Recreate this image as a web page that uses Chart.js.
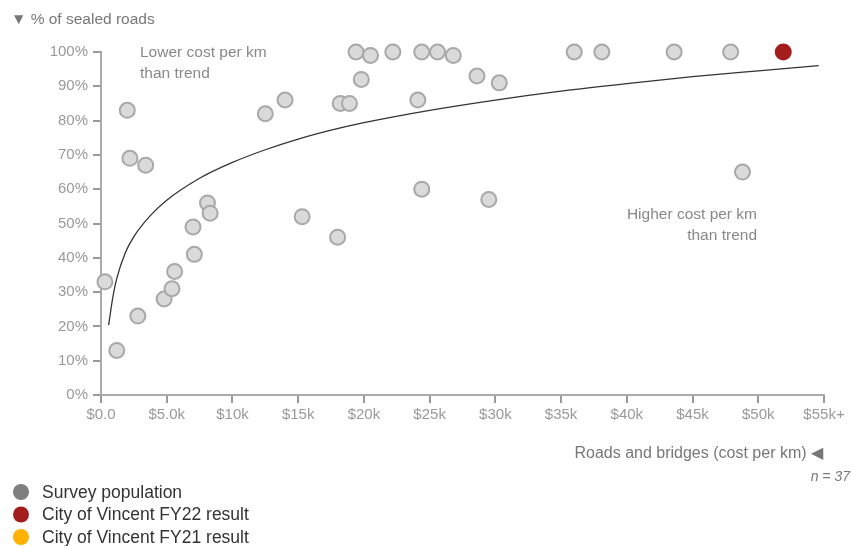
<!DOCTYPE html>
<html>
<head>
<meta charset="utf-8">
<script src="https://cdn.jsdelivr.net/npm/chart.js@4.4.1/dist/chart.umd.min.js"></script>
<style>
  html, body { margin: 0; padding: 0; background: #fff; }
  #wrap { position: relative; width: 851px; height: 546px; }
</style>
</head>
<body>
<div id="wrap"><canvas id="roadsChart" width="851" height="546"></canvas></div>
<script>
// survey population: cost per km ($k) and % sealed roads
var surveyCost = [0.3, 1.2, 2.0, 2.2, 3.4, 2.8, 4.8, 5.4, 5.6, 7.0, 7.1, 8.1, 8.3,
  12.5, 14.0, 15.3, 18.0, 18.2, 18.9, 19.4, 19.8, 20.5, 22.2, 24.1, 24.4, 24.4,
  25.6, 26.8, 28.6, 29.5, 30.3, 36.0, 38.1, 43.6, 47.9, 48.8];
var surveySealed = [33, 13, 83, 69, 67, 23, 28, 31, 36, 49, 41, 56, 53,
  82, 86, 52, 46, 85, 85, 100, 92, 99, 100, 86, 100, 60,
  100, 99, 93, 57, 91, 100, 100, 100, 100, 65];

var vincentFY22Cost = [51.9];
var vincentFY22Sealed = [100];
var vincentFY21Cost = [];
var vincentFY21Sealed = [];

// trend curve
var trendCost = [0.58, 0.9, 1.2, 1.85, 2.5, 3.75, 5.0, 7.5, 10, 12.5, 15, 17.5, 20, 25, 30, 35, 40, 45, 50, 54.6];
var trendSealed = [20.4, 28.5, 34, 41.5, 46.2, 52.3, 56.8, 63.2, 67.8, 71.5, 74.6, 77.2, 79.4, 83, 86, 88.6, 90.8, 92.8, 94.5, 96];

var xTickLabels = ['$0.0', '$5.0k', '$10k', '$15k', '$20k', '$25k', '$30k', '$35k', '$40k', '$45k', '$50k', '$55k+'];
var yTickLabels = ['0%', '10%', '20%', '30%', '40%', '50%', '60%', '70%', '80%', '90%', '100%'];

var legendNames = ['Survey population', 'City of Vincent FY22 result', 'City of Vincent FY21 result'];
var legendColours = ['#7f7f7f', '#a31d1d', '#ffb300'];

var FONT = '"Liberation Sans", Arial, Helvetica, sans-serif';

function toPoints(xs, ys) {
  var pts = [];
  for (var i = 0; i < xs.length; i++) pts.push({ x: xs[i], y: ys[i] });
  return pts;
}

// extra text: title, notes, axis name, n, legend
var textPlugin = {
  id: 'textPlugin',
  afterDraw: function (chart) {
    var ctx = chart.ctx;
    ctx.save();
    ctx.textBaseline = 'middle';

    ctx.font = '15.5px ' + FONT;
    ctx.fillStyle = '#777';
    ctx.textAlign = 'left';
    ctx.fillText('\u25BC % of sealed roads', 11, 20);

    ctx.fillStyle = '#888';
    ctx.fillText('Lower cost per km', 140, 53);
    ctx.fillText('than trend', 140, 74);
    ctx.textAlign = 'right';
    ctx.fillText('Higher cost per km', 757, 215);
    ctx.fillText('than trend', 757, 236);

    ctx.fillStyle = '#777';
    ctx.font = '16px ' + FONT;
    ctx.fillText('Roads and bridges (cost per km) \u25C0', 823, 454);
    ctx.font = 'italic 14px ' + FONT;
    ctx.fillText('n = 37', 850, 477);

    ctx.textAlign = 'left';
    ctx.font = '17.5px ' + FONT;
    for (var i = 0; i < legendNames.length; i++) {
      var y = 492 + i * 22.5;
      ctx.beginPath();
      ctx.arc(21, y, 8, 0, Math.PI * 2);
      ctx.fillStyle = legendColours[i];
      ctx.fill();
      ctx.fillStyle = '#333';
      ctx.fillText(legendNames[i], 42, y + 1);
    }
    ctx.restore();
  }
};

var ctx = document.getElementById('roadsChart');

new Chart(ctx, {
  type: 'scatter',
  data: {
    datasets: [
      {
        label: 'Trend',
        data: toPoints(trendCost, trendSealed),
        showLine: true,
        pointRadius: 0,
        borderColor: '#333',
        borderWidth: 1.3,
        cubicInterpolationMode: 'monotone',
        clip: false,
        order: 3
      },
      {
        label: legendNames[0],
        data: toPoints(surveyCost, surveySealed),
        pointRadius: 7.5,
        pointBackgroundColor: '#dadada',
        pointBorderColor: '#a8a8a8',
        pointBorderWidth: 2,
        clip: false,
        order: 2
      },
      {
        label: legendNames[1],
        data: toPoints(vincentFY22Cost, vincentFY22Sealed),
        pointRadius: 8.5,
        pointBackgroundColor: '#a31d1d',
        pointBorderColor: '#a31d1d',
        pointBorderWidth: 0,
        clip: false,
        order: 1
      },
      {
        label: legendNames[2],
        data: toPoints(vincentFY21Cost, vincentFY21Sealed),
        pointRadius: 8.5,
        pointBackgroundColor: '#ffb300',
        clip: false,
        order: 0
      }
    ]
  },
  options: {
    responsive: false,
    animation: false,
    devicePixelRatio: 1,
    layout: { padding: { top: 52, right: 27, left: 0, bottom: 0 } },
    plugins: {
      legend: { display: false },
      tooltip: { enabled: false }
    },
    scales: {
      x: {
        type: 'linear',
        min: 0,
        max: 55,
        afterFit: function (s) { s.height = 151; },
        border: { display: true, color: '#aaa', width: 2 },
        grid: { display: true, drawOnChartArea: false, drawTicks: true, tickLength: 8, color: '#999', lineWidth: 2 },
        ticks: {
          stepSize: 5,
          padding: 3,
          maxRotation: 0,
          autoSkip: false,
          color: '#999',
          font: { family: FONT, size: 15 },
          callback: function (v) { return xTickLabels[Math.round(v / 5)]; }
        }
      },
      y: {
        min: 0,
        max: 100,
        afterFit: function (s) { s.width = 101; },
        border: { display: true, color: '#aaa', width: 2 },
        grid: { display: true, drawOnChartArea: false, drawTicks: true, tickLength: 8, color: '#999', lineWidth: 2 },
        ticks: {
          stepSize: 10,
          padding: 5,
          color: '#999',
          font: { family: FONT, size: 15 },
          callback: function (v) { return yTickLabels[Math.round(v / 10)]; }
        }
      }
    }
  },
  plugins: [textPlugin]
});
</script>
</body>
</html>
